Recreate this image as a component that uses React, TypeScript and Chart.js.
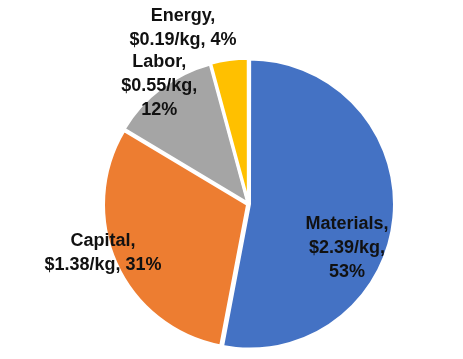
import { useEffect, useRef } from 'react';
import { Chart, registerables } from 'chart.js';

Chart.register(...registerables);

const categories = ['Materials', 'Capital', 'Labor', 'Energy'];
const costPerKg = [2.39, 1.38, 0.55, 0.19];
const sliceColors = ['#4472C4', '#ED7D31', '#A5A5A5', '#FFC000'];
// which label parts go on each line: 0 = name, 1 = cost, 2 = percent
const labelLines = [[[0], [1], [2]], [[0], [1, 2]], [[0], [1], [2]], [[0], [1, 2]]];
// label placement: distance along the slice's middle angle, plus a nudge
const labelPlacement = [
  { r: 100, dx: -1, dy: 35 },
  { r: 154, dx: -5, dy: -14 },
  { r: 148, dx: 0, dy: 0 },
  { r: 178, dx: -42, dy: 0 },
];

const total = costPerKg.reduce((a, b) => a + b, 0);

const labelPlugin = {
  id: 'sliceLabels',
  afterDatasetsDraw(chart: any) {
    const ctx = chart.ctx;
    const meta = chart.getDatasetMeta(0);
    ctx.save();
    ctx.font = 'bold 18px "Liberation Sans", Arial, sans-serif';
    ctx.fillStyle = '#111111';
    ctx.textAlign = 'center';
    ctx.textBaseline = 'middle';
    const lineH = 24;
    meta.data.forEach((arc: any, i: number) => {
      const mid = (arc.startAngle + arc.endAngle) / 2;
      const p = labelPlacement[i];
      const cx = arc.x + Math.cos(mid) * p.r + p.dx;
      const cy = arc.y + Math.sin(mid) * p.r + p.dy;
      const parts = [
        categories[i] + ',',
        '$' + costPerKg[i].toFixed(2) + '/kg,',
        Math.round((costPerKg[i] / total) * 100) + '%',
      ];
      const lines = labelLines[i].map((g) => g.map((k) => parts[k]).join(' '));
      const startY = cy - ((lines.length - 1) * lineH) / 2;
      lines.forEach((t, j) => ctx.fillText(t, cx, startY + j * lineH));
    });
    ctx.restore();
  },
};

export default function App() {
  const ref = useRef<HTMLCanvasElement>(null);
  useEffect(() => {
    if (!ref.current) return;
    const chart = new Chart(ref.current, {
      type: 'pie',
      data: {
        labels: categories,
        datasets: [
          {
            data: costPerKg,
            backgroundColor: sliceColors,
            borderColor: '#ffffff',
            borderWidth: 3,
            offset: 4,
          },
        ],
      },
      options: {
        animation: false,
        responsive: true,
        maintainAspectRatio: false,
        radius: 144,
        layout: { padding: { left: 34, right: 0, top: 49, bottom: 0 } },
        plugins: {
          legend: { display: false },
          tooltip: { enabled: false },
        },
      } as any,
      plugins: [labelPlugin],
    });
    return () => chart.destroy();
  }, []);
  return (
    <div style={{ position: 'fixed', left: 0, top: 0, width: 463, height: 359, background: '#fff' }}>
      <canvas ref={ref} />
    </div>
  );
}
